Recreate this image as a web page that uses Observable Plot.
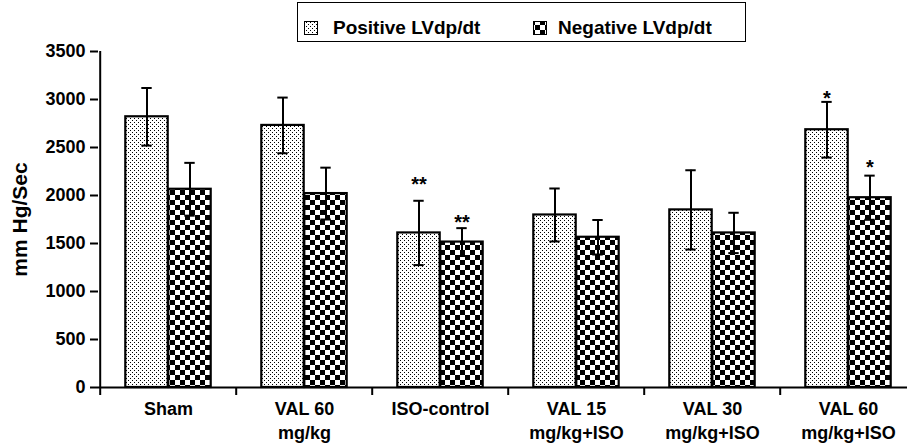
<!DOCTYPE html>
<html>
<head>
<meta charset="utf-8">
<script src="https://cdn.jsdelivr.net/npm/d3@7"></script>
<script src="https://cdn.jsdelivr.net/npm/@observablehq/plot@0.6"></script>
<style>
  body { margin: 0; background: #fff; }
  #wrap { position: relative; width: 907px; height: 444px; overflow: hidden; font-family: "Liberation Sans", Arial, sans-serif; }
  #chart { position: absolute; left: 0; top: 0; }
  #legend { position: absolute; left: 0; top: 0; }
</style>
</head>
<body>
<svg width="0" height="0" style="position:absolute">
  <defs>
    <pattern id="dots" width="4" height="4" patternUnits="userSpaceOnUse">
      <rect width="4" height="4" fill="#fff"/>
      <rect x="0" y="0" width="1" height="1" fill="#000"/>
      <rect x="2" y="2" width="1" height="1" fill="#000"/>
    </pattern>
    <pattern id="checks" width="10" height="10" patternUnits="userSpaceOnUse">
      <rect width="10" height="10" fill="#fff"/>
      <rect x="0" y="0" width="5" height="5" fill="#000"/>
      <rect x="5" y="5" width="5" height="5" fill="#000"/>
    </pattern>
  </defs>
</svg>
<div id="wrap">
  <div id="chart"></div>
  <svg id="legend" width="907" height="50" style="overflow:visible">
    <rect x="297.5" y="2.5" width="448" height="39" fill="#fff" stroke="#000" stroke-width="1"/>
    <rect x="304.5" y="21.5" width="13" height="13" fill="url(#dots)" stroke="#000" stroke-width="1"/>
    <text id="lg1" x="333" y="34" font-size="19" font-weight="bold" font-family="Liberation Sans, Arial, sans-serif"></text>
    <rect x="533.5" y="21.5" width="13" height="13" fill="url(#checks)" stroke="#000" stroke-width="1"/>
    <text id="lg2" x="558" y="34" font-size="19" font-weight="bold" font-family="Liberation Sans, Arial, sans-serif"></text>
  </svg>
</div>
<script>
// ---- data ----
const categories = ["Sham", "VAL 60\nmg/kg", "ISO-control", "VAL 15\nmg/kg+ISO", "VAL 30\nmg/kg+ISO", "VAL 60\nmg/kg+ISO"];
const seriesNames = ["Positive LVdp/dt", "Negative LVdp/dt"];
const positiveMean = [2820, 2730, 1610, 1797, 1850, 2685];
const positiveErr  = [300, 290, 335, 276, 413, 290];
const negativeMean = [2065, 2020, 1515, 1565, 1610, 1977];
const negativeErr  = [275, 270, 145, 180, 210, 230];
const starCategory = ["ISO-control", "ISO-control", "VAL 60\nmg/kg+ISO", "VAL 60\nmg/kg+ISO"];
const starSeries   = ["Positive LVdp/dt", "Negative LVdp/dt", "Positive LVdp/dt", "Negative LVdp/dt"];
const starValue    = [2164, 1771, 3059, 2347];
const starText     = ["**", "**", "*", "*"];
const yTicks = [0, 500, 1000, 1500, 2000, 2500, 3000, 3500];
const yLabel = "mm Hg/Sec";

document.getElementById("lg1").textContent = seriesNames[0];
document.getElementById("lg2").textContent = seriesNames[1];

// ---- table ----
const rows = categories.map((c, i) => ({
  cat: c,
  pos: positiveMean[i], posLo: positiveMean[i] - positiveErr[i], posHi: positiveMean[i] + positiveErr[i],
  neg: negativeMean[i], negLo: negativeMean[i] - negativeErr[i], negHi: negativeMean[i] + negativeErr[i]
}));
const stars = starCategory.map((c, i) => ({cat: c, series: starSeries[i], value: starValue[i], label: starText[i]}));

// ---- layout ----
const W = 907, H = 444;
const mL = 98, mR = -10.6, mT = 51, mB = 57;
const bw = (W - mL - mR) / categories.length;
const half = bw / 2;
const barW = 43;
const off = barW / 2;     // error bar offset from band centre
const cap = 5.5;
const font = "Liberation Sans, Arial, sans-serif";

const chart = Plot.plot({
  width: W, height: H,
  marginLeft: mL, marginRight: mR, marginTop: mT, marginBottom: mB,
  style: {fontFamily: font, fontSize: "18px", fontWeight: "bold", color: "#000", background: "transparent"},
  x: {type: "band", domain: categories, padding: 0, label: null},
  y: {domain: [0, 3500], label: null},
  marks: [
    Plot.barY(rows, {x: "cat", y: "pos", fill: "url(#dots)", stroke: "#000", strokeWidth: 2.2,
      insetLeft: half - barW, insetRight: half}),
    Plot.barY(rows, {x: "cat", y: "neg", fill: "url(#checks)", stroke: "#000", strokeWidth: 2.2,
      insetLeft: half, insetRight: half - barW}),
    // error bars
    Plot.ruleX(rows, {x: "cat", y1: "posLo", y2: "posHi", dx: -off, stroke: "#000", strokeWidth: 2}),
    Plot.ruleX(rows, {x: "cat", y1: "negLo", y2: "negHi", dx: off, stroke: "#000", strokeWidth: 2}),
    Plot.tickY(rows, {x: "cat", y: "posHi", stroke: "#000", strokeWidth: 2, insetLeft: half - off - cap, insetRight: half + off - cap}),
    Plot.tickY(rows, {x: "cat", y: "posLo", stroke: "#000", strokeWidth: 2, insetLeft: half - off - cap, insetRight: half + off - cap}),
    Plot.tickY(rows, {x: "cat", y: "negHi", stroke: "#000", strokeWidth: 2, insetLeft: half + off - cap, insetRight: half - off - cap}),
    Plot.tickY(rows, {x: "cat", y: "negLo", stroke: "#000", strokeWidth: 2, insetLeft: half + off - cap, insetRight: half - off - cap}),
    // significance stars
    Plot.text(stars.filter(d => d.series === seriesNames[0]), {x: "cat", y: "value", text: "label", dx: -off, dy: 5, fontSize: 20, fontWeight: "bold", lineAnchor: "middle"}),
    Plot.text(stars.filter(d => d.series === seriesNames[1]), {x: "cat", y: "value", text: "label", dx: off, dy: 5, fontSize: 20, fontWeight: "bold", lineAnchor: "middle"}),
    // axes
    Plot.ruleY([0], {stroke: "#000", strokeWidth: 2}),
    Plot.ruleX([categories[0]], {x: d => d, y1: 0, y2: 3500, dx: -half, stroke: "#000", strokeWidth: 2}),
    Plot.axisY({ticks: yTicks, tickFormat: d => String(d), tickSize: 8, tickPadding: 5, fontSize: 18, fontWeight: "bold", strokeWidth: 2, label: null}),
    Plot.axisX({tickSize: 8, tickFormat: () => "", dx: -half, strokeWidth: 2, label: null}),
    Plot.axisX({tickSize: 0, tickPadding: 10, fontSize: 18, fontWeight: "bold", lineHeight: 1.36, label: null}),
    Plot.text([yLabel], {text: d => d, frameAnchor: "left", textAnchor: "middle", dx: -78, rotate: -90, fontSize: 21, fontWeight: "bold"})
  ]
});
document.getElementById("chart").appendChild(chart);
</script>
</body>
</html>
